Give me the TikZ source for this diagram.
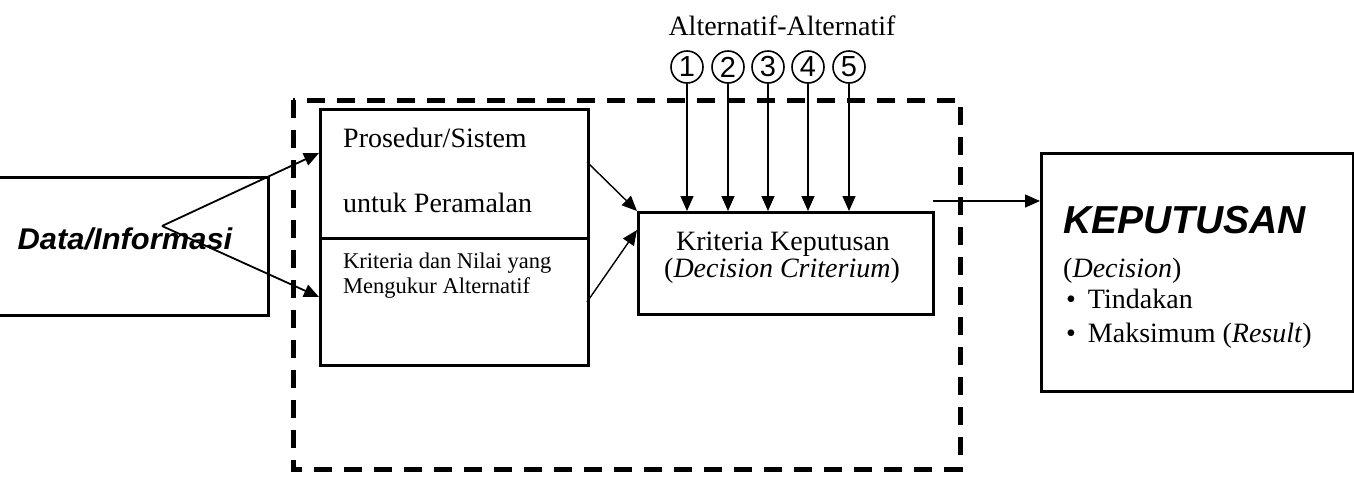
\documentclass[tikz,border=0pt]{standalone}
\usepackage{fontspec}
\setmainfont{Liberation Serif}
\newfontfamily\headfont{Liberation Sans}
\usetikzlibrary{arrows.meta}
\begin{document}
\begin{tikzpicture}[x=1pt,y=1pt]
\tikzstyle{every node}+=[inner sep=0pt]
\tikzstyle{box}=[draw=black, line width=2.5pt, rectangle, anchor=north west]
\tikzstyle{link}=[black, line width=1.4pt, -{Triangle[length=15pt,width=13pt]}]
\tikzstyle{txt}=[anchor=base west, font=\fontsize{28}{28}\selectfont]
\tikzstyle{smalltxt}=[anchor=base west, font=\fontsize{22.5}{22.5}\selectfont]
\useasboundingbox (0,0) rectangle (1354,-496);
\draw [black, line width=5pt, dash pattern=on 18pt off 12pt] (293,-100) rectangle (960,-469);
\node [box, minimum width=272pt, minimum height=138pt] (data) at (-5,-176) {};
\node [anchor=base, font=\headfont\bfseries\itshape\fontsize{30}{30}\selectfont] (datatxt) at (125,-249) {\scalebox{1.03}[1]{Data/Informasi}};
\node [box, minimum width=268pt, minimum height=129pt] (proc) at (319,-108) {};
\node [box, minimum width=268pt, minimum height=127pt] (crit) at (319,-237) {};
\node [txt] (proc1) at (343,-147) {Prosedur/Sistem};
\node [txt] (proc2) at (343,-212) {untuk Peramalan};
\node [smalltxt] (crit1) at (343,-268) {Kriteria dan Nilai yang};
\node [smalltxt] (crit2) at (343,-293) {Mengukur Alternatif};
\node [box, minimum width=295pt, minimum height=102pt] (kk) at (637,-211) {};
\node [txt, anchor=base] (kk1) at (783,-250) {Kriteria Keputusan};
\node [txt, anchor=base] (kk2) at (782,-277) {(\textit{Decision Criterium})};
\node [box, minimum width=312pt, minimum height=238pt] (kep) at (1040,-152) {};
\node [anchor=base west, font=\headfont\bfseries\itshape\fontsize{39}{39}\selectfont] (kep1) at (1063,-233) {KEPUTUSAN};
\node [txt] (kep2) at (1063,-277) {(\textit{Decision})};
\node [txt] (kep3) at (1066,-308) {\textbullet\hspace{12pt}Tindakan};
\node [txt] (kep4) at (1066,-342) {\textbullet\hspace{12pt}Maksimum (\textit{Result})};
\node [txt, anchor=base] (alts) at (782,-35) {Alternatif-Alternatif};
\coordinate (split) at (162,-226);
\coordinate (procin) at (319,-153);
\coordinate (critin) at (319,-297);
\coordinate (procout) at (587,-162);
\coordinate (critout) at (587,-302);
\coordinate (kkin) at (637,-230);
\coordinate (kkout) at (933,-201);
\draw [link, line width=1.8pt] (split) -- (procin);
\draw [link, line width=1.8pt] (split) -- (critin);
\draw [link] (procout) -- (kk.north west);
\draw [link] (critout) -- (kkin);
\draw [link] (kkout) -- (kep.west |- kkout);
\foreach \n/\x in {1/687,2/728,3/768,4/808,5/849} {
  \node [draw, circle, line width=1.6pt, minimum size=32pt, font=\headfont\fontsize{29}{29}\selectfont] (alt\n) at (\x,-67) {\n};
  \draw [link] (alt\n) -- (alt\n |- kk.north);
}
\end{tikzpicture}
\end{document}
